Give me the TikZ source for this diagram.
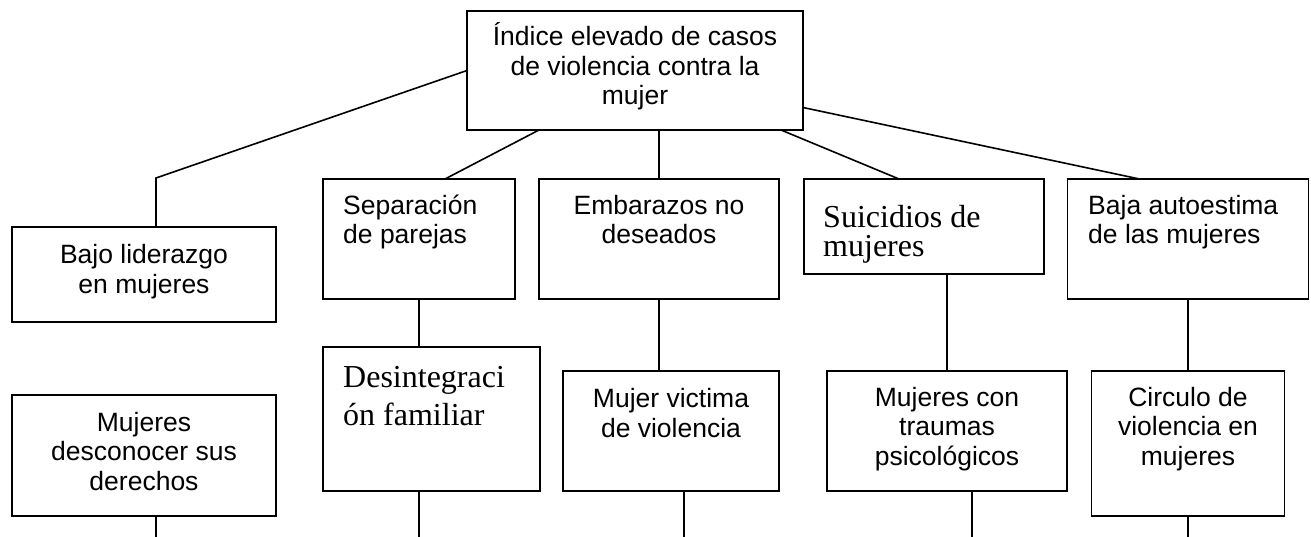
\documentclass[tikz,border=0pt]{standalone}
\usepackage{fontspec}
\setmainfont{Liberation Sans}
\newfontfamily\tnr{Liberation Serif}
\begin{document}
\begin{tikzpicture}[x=1pt,y=-1pt,
  box/.style={draw, line width=1.7pt, rectangle, inner sep=0pt, outer sep=0pt},
  conn/.style={line width=1.6pt},
  ar/.style={font=\fontsize{26.5pt}{29.5pt}\selectfont, inner sep=0pt, align=center, anchor=base},
  arl/.style={font=\fontsize{26.5pt}{29.5pt}\selectfont, inner sep=0pt, align=left, anchor=base west},
  tr/.style={font=\tnr\fontsize{32pt}{29pt}\selectfont, inner sep=0pt, align=left, anchor=base west},
  trb/.style={font=\tnr\fontsize{32pt}{38pt}\selectfont, inner sep=0pt, align=left, anchor=base west}]
\useasboundingbox (0,0) rectangle (1311,537);
% boxes
\node[box, minimum width=336pt, minimum height=119pt] (top) at (635,70.5) {};
\node[box, minimum width=264pt, minimum height=95pt] (bajo) at (144,274.5) {};
\node[box, minimum width=192pt, minimum height=120pt] (sep) at (419,239) {};
\node[box, minimum width=240pt, minimum height=120pt] (emb) at (659,239) {};
\node[box, minimum width=240pt, minimum height=95pt] (sui) at (924,226.5) {};
\node[box, minimum width=241pt, minimum height=120pt] (baja) at (1188,239) {};
\node[box, minimum width=264pt, minimum height=121pt] (desc) at (144,455.5) {};
\node[box, minimum width=217pt, minimum height=144pt] (des) at (431.5,419) {};
\node[box, minimum width=216pt, minimum height=120pt] (vic) at (671,431) {};
\node[box, minimum width=240pt, minimum height=120pt] (tra) at (947,431) {};
\node[box, minimum width=193pt, minimum height=145pt] (cir) at (1188,443.5) {};
% texts (anchored at the baseline of the last line)
\node[ar] (ttop) at (635,105) {Índice elevado de casos\\de violencia contra la\\mujer};
\node[ar] (tbajo) at (144,293) {Bajo liderazgo\\en mujeres};
\node[arl] (tsep) at (343,244) {Separación\\de parejas};
\node[ar] (temb) at (659,244) {Embarazos no\\deseados};
\node[tr] (tsui) at (823,257) {Suicidios de\\mujeres};
\node[arl] (tbaja) at (1088,244) {Baja autoestima\\de las mujeres};
\node[ar] (tdesc) at (144,490) {Mujeres\\desconocer sus\\derechos};
\node[trb] (tdes) at (343,425) {Desintegraci\\ón familiar};
\node[ar] (tvic) at (671,437) {Mujer victima\\de violencia};
\node[ar] (ttra) at (947,465) {Mujeres con\\traumas\\psicológicos};
\node[ar] (tcir) at (1188,465) {Circulo de\\violencia en\\mujeres};
% coordinates
\coordinate (k1) at (156,178);
\coordinate (e1) at (156,537);
\coordinate (e2) at (419,537);
\coordinate (e3) at (684,537);
\coordinate (e4) at (972,537);
\coordinate (e5) at (1188,537);
% connectors
\draw[conn] (top.west) -- (k1) -- (k1 |- bajo.north);
\draw[conn] ([xshift=72pt]top.south west) -- ([xshift=122pt]sep.north west);
\draw[conn] (top.south -| emb.north) -- (emb.north);
\draw[conn] ([xshift=-22pt]top.south east) -- ([xshift=95pt]sui.north west);
\draw[conn] ([yshift=-37pt]top.east) -- ([xshift=72pt]baja.north west);
\draw[conn] (sep.south) -- (sep.south |- des.north);
\draw[conn] (emb.south) -- (emb.south |- vic.north);
\draw[conn] (tra.north |- sui.south) -- (tra.north);
\draw[conn] (baja.south) -- (baja.south |- cir.north);
\draw[conn] (desc.south -| e1) -- (e1);
\draw[conn] (des.south -| e2) -- (e2);
\draw[conn] (vic.south -| e3) -- (e3);
\draw[conn] (tra.south -| e4) -- (e4);
\draw[conn] (cir.south -| e5) -- (e5);
\end{tikzpicture}
\end{document}
